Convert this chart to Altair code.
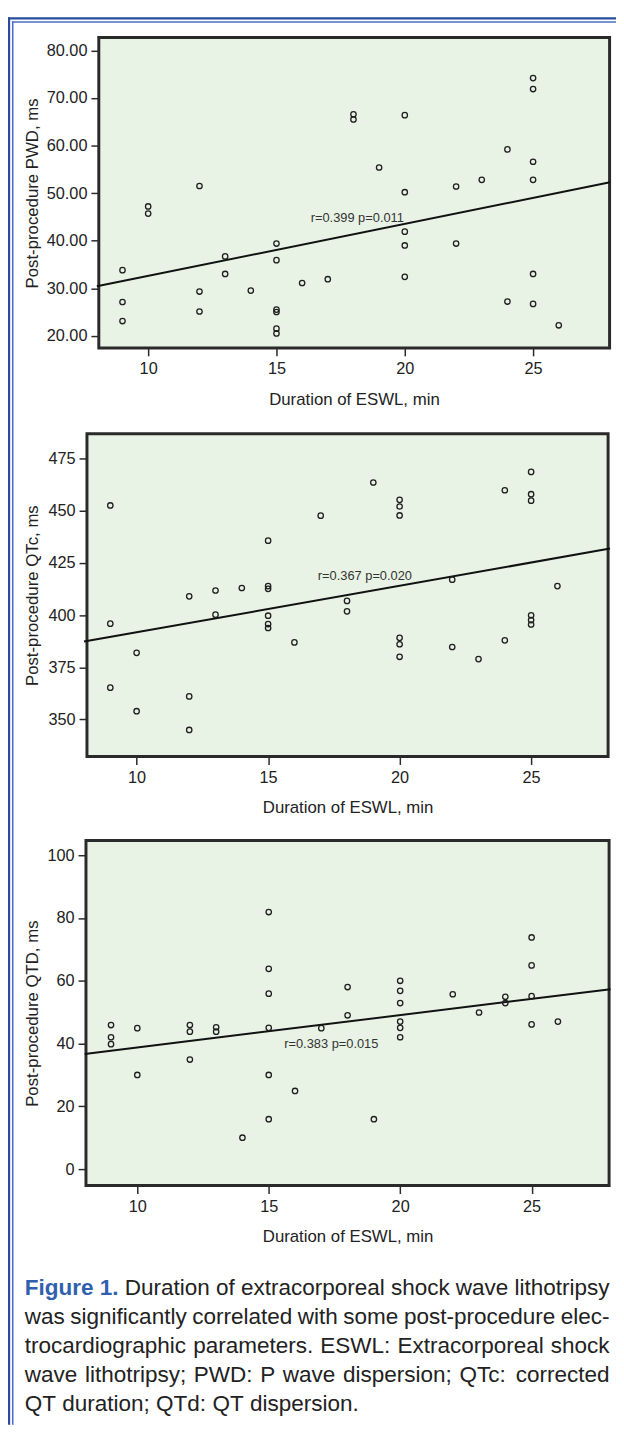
import altair as alt
import pandas as pd

FONT = "Liberation Sans"
W, H = 616, 1426

# ---------------- data ----------------
# Panel 1: Post-procedure PWD
pwd_x = [9, 9, 9, 10, 10, 12, 12, 12, 13, 13, 14, 15, 15, 15, 15, 15, 15, 16, 17, 18, 18, 19,
         20, 20, 20, 20, 20, 22, 22, 23, 24, 24, 25, 25, 25, 25, 25, 25, 26]
pwd_y = [33.8, 27.1, 23.1, 47.2, 45.7, 51.5, 29.3, 25.1, 36.7, 33.0, 29.5, 39.4, 35.9, 25.5, 25.0,
         21.5, 20.5, 31.1, 31.9, 66.6, 65.5, 55.4, 66.4, 50.2, 41.9, 39.0, 32.4, 51.4, 39.4, 52.8,
         59.2, 27.2, 74.2, 71.9, 56.6, 52.8, 33.0, 26.7, 22.2]
pwd_fit_x = [8, 28]
pwd_fit_y = [30.4, 52.3]
pwd_note = "r=0.399  p=0.011"
pwd_note_xy = [18.15, 44.8]

# Panel 2: Post-procedure QTc
qtc_x = [9, 9, 9, 10, 10, 12, 12, 12, 13, 13, 14, 15, 15, 15, 15, 15, 15, 16, 17, 18, 18, 19,
         20, 20, 20, 20, 20, 20, 22, 22, 23, 24, 24, 25, 25, 25, 25, 25, 25, 26]
qtc_y = [452.6, 395.9, 365.2, 381.9, 353.9, 409.0, 361.0, 344.9, 411.8, 400.2, 413.0, 435.7,
         413.9, 412.6, 399.7, 395.7, 393.8, 386.9, 447.7, 406.8, 401.8, 463.6, 455.3, 452.1,
         447.8, 389.1, 386.0, 380.0, 417.0, 384.7, 378.9, 459.9, 387.9, 468.7, 458.0, 454.9,
         399.9, 397.6, 395.5, 413.9]
qtc_fit_x = [8, 28]
qtc_fit_y = [387.3, 431.9]
qtc_note = "r=0.367  p=0.020"
qtc_note_xy = [18.68, 418.9]

# Panel 3: Post-procedure QTD
qtd_x = [9, 9, 9, 10, 10, 12, 12, 12, 13, 13, 14, 15, 15, 15, 15, 15, 15, 16, 17, 18, 18, 19,
         20, 20, 20, 20, 20, 20, 22, 23, 24, 24, 25, 25, 25, 25, 26]
qtd_y = [45.9, 42.0, 39.8, 44.9, 30.0, 45.9, 43.8, 34.9, 45.2, 43.8, 10.0, 81.9, 63.8, 55.9,
         45.0, 30.0, 15.9, 24.9, 44.9, 58.0, 49.0, 15.9, 60.0, 56.8, 52.9, 47.0, 45.0, 42.0,
         55.7, 49.9, 54.9, 52.9, 73.8, 64.9, 55.1, 46.1, 47.0]
qtd_fit_x = [8, 28]
qtd_fit_y = [36.7, 57.3]
qtd_note = "r=0.383  p=0.015"
qtd_note_xy = [17.38, 40.0]

x_title = "Duration of ESWL, min"
x_ticks = [10, 15, 20, 25]

caption_lead = "Figure 1."
caption_lines = [
    "Duration of extracorporeal shock wave lithotripsy",
    "was significantly correlated with some post-procedure elec-",
    "trocardiographic parameters. ESWL: Extracorporeal shock",
    "wave lithotripsy; PWD: P wave dispersion; QTc: corrected",
    "QT duration; QTd: QT dispersion.",
]

one = pd.DataFrame({"k": [0]})

GREEN = "#e8f3e5"
FRAME = "#2a2a2a"
INK = "#1e1e1e"

# ---- text layout helper (Arial / Liberation Sans advance widths, 1/1000 em) ----
_AW = {" ": 278, "-": 333, ".": 278, ",": 278, ":": 278, ";": 278,
       "A": 667, "B": 667, "C": 722, "D": 722, "E": 667, "F": 611, "G": 778, "H": 722,
       "I": 278, "J": 500, "K": 667, "L": 556, "M": 833, "N": 722, "O": 778, "P": 667,
       "Q": 778, "R": 722, "S": 667, "T": 611, "U": 722, "V": 667, "W": 944, "X": 667,
       "Y": 667, "Z": 611, "a": 556, "b": 556, "c": 500, "d": 556, "e": 556, "f": 278,
       "g": 556, "h": 556, "i": 222, "j": 222, "k": 500, "l": 222, "m": 833, "n": 556,
       "o": 556, "p": 556, "q": 556, "r": 333, "s": 500, "t": 278, "u": 556, "v": 500,
       "w": 722, "x": 500, "y": 500, "z": 500}
_AWB = {"F": 611, "i": 278, "g": 611, "u": 611, "r": 389, "e": 556, " ": 278, "1": 556, ".": 278}
for _d in "0123456789":
    _AW[_d] = 556


def text_w(s, size, bold=False):
    tab = _AWB if bold else _AW
    return sum(tab.get(c, 556) for c in s) * size / 1000.0


CAP_SIZE = 22.8
CAP_L, CAP_R = 17.0, 609.5
baselines = [1294.7, 1324, 1353.3, 1382.6, 1412]

rows = []
for i, line in enumerate(caption_lines):
    words = line.split(" ")
    items = [(w, False) for w in words]
    if i == 0:
        items = [(caption_lead, True)] + items
    widths = [text_w(w, CAP_SIZE, b) for w, b in items]
    last = i == len(caption_lines) - 1
    if last:
        gap = text_w(" ", CAP_SIZE)
    else:
        gap = (CAP_R - CAP_L - sum(widths)) / (len(items) - 1)
    xpos = CAP_L
    for (w, b), wd in zip(items, widths):
        rows.append({"word": w, "px": xpos, "py": baselines[i], "bold": b})
        xpos += wd + gap
cap_df = pd.DataFrame(rows)


def box(x, x2, y, y2, **kw):
    return alt.Chart(one).mark_rect(**kw).encode(
        x=alt.value(x), x2=alt.value(x2), y=alt.value(y), y2=alt.value(y2))


def panel(xs, ys, fx, fy, note, note_xy, geom):
    (xr, yd, yr, yvals, yfmt, ax_x, ax_y, ytitle, tx, ty_center, xt_center) = geom
    xe = alt.X("x:Q",
               scale=alt.Scale(domain=[10, 25], range=xr, nice=False, zero=False),
               axis=alt.Axis(orient="bottom", offset=ax_y - H, values=x_ticks, format="d",
                             title=x_title, titleX=xt_center, titleY=52,
                             titleAlign="center", titleBaseline="middle",
                             labelFlush=False, labelPadding=5, tickSize=8))
    ye = alt.Y("y:Q",
               scale=alt.Scale(domain=yd, range=yr, nice=False, zero=False),
               axis=alt.Axis(orient="left", offset=-ax_x, values=yvals, format=yfmt,
                             title=ytitle, titleX=tx - ax_x, titleY=ty_center,
                             titleAngle=270, titleAlign="center", titleBaseline="middle",
                             labelPadding=4, tickSize=8))
    pts = alt.Chart(pd.DataFrame({"x": xs, "y": ys})).mark_point(
        shape="circle", filled=False, size=30, stroke=INK, strokeWidth=1.3, opacity=1
    ).encode(x=xe, y=ye)
    fit = alt.Chart(pd.DataFrame({"x": fx, "y": fy})).mark_line(
        color="#111111", strokeWidth=2
    ).encode(x=xe, y=ye)
    txt = alt.Chart(pd.DataFrame({"x": [note_xy[0]], "y": [note_xy[1]], "t": [note]})).mark_text(
        font=FONT, fontSize=13, color="#333333", align="center", baseline="middle"
    ).encode(x=xe, y=ye, text="t:N")
    return alt.layer(fit, pts, txt)


p1 = panel(pwd_x, pwd_y, pwd_fit_x, pwd_fit_y, pwd_note, pwd_note_xy,
           ([142, 532], [20, 80], [322.7, 33.7], [20, 30, 40, 50, 60, 70, 80], ".2f",
            92, 335, "Post-procedure PWD, ms", 25, 178, 350.5))
p2 = panel(qtc_x, qtc_y, qtc_fit_x, qtc_fit_y, qtc_note, qtc_note_xy,
           ([130.3, 530], [350, 475], [711.3, 447.3], [350, 375, 400, 425, 450, 475], "d",
            80, 749, "Post-procedure QTc, ms", 25, 585.5, 344))
p3 = panel(qtd_x, qtd_y, qtd_fit_x, qtd_fit_y, qtd_note, qtd_note_xy,
           ([131, 530.5], [0, 100], [1167, 849], [0, 20, 40, 60, 80, 100], "d",
            79, 1183.7, "Post-procedure QTD, ms", 25, 1009, 344))

frames = [
    box(92, 609.5, 20.5, 335, fill=GREEN, stroke=FRAME, strokeWidth=3),
    box(80, 608, 422, 749, fill=GREEN, stroke=FRAME, strokeWidth=3),
    box(79, 609, 834, 1183.7, fill=GREEN, stroke=FRAME, strokeWidth=3),
]

border = [
    box(0, W, 0, 2.2, fill="#2b4c9c"),
    box(0, 2.2, 0, H, fill="#2b4c9c"),
    box(4, W, 4, 5.6, fill="#4d6fc2"),
    box(4, 5.6, 4, H, fill="#4d6fc2"),
]

cap_plain = alt.Chart(cap_df[~cap_df["bold"]]).mark_text(
    font=FONT, fontSize=CAP_SIZE, color="#222222", align="left", baseline="alphabetic"
).encode(x=alt.X("px:Q", scale=None, axis=None), y=alt.Y("py:Q", scale=None, axis=None),
         text="word:N")
cap_bold = alt.Chart(cap_df[cap_df["bold"]]).mark_text(
    font=FONT, fontSize=CAP_SIZE, fontWeight="bold", color="#2f5fae", align="left",
    baseline="alphabetic"
).encode(x=alt.X("px:Q", scale=None, axis=None), y=alt.Y("py:Q", scale=None, axis=None),
         text="word:N")

chart = alt.layer(*border, *frames, p1, p2, p3, cap_plain, cap_bold).resolve_scale(
    x="independent", y="independent"
).properties(
    width=W, height=H, autosize=alt.AutoSizeParams(type="none"), padding=0,
    background="white"
).configure_view(stroke=None).configure_axis(
    grid=False, domain=False,
    labelFont=FONT, labelFontSize=16.5, labelColor="#222222",
    titleFont=FONT, titleFontSize=17, titleFontWeight="normal", titleColor="#222222",
    tickColor=FRAME, tickWidth=1.5,
)

chart.save("out.html", embed_options={"renderer": "svg", "actions": False})
